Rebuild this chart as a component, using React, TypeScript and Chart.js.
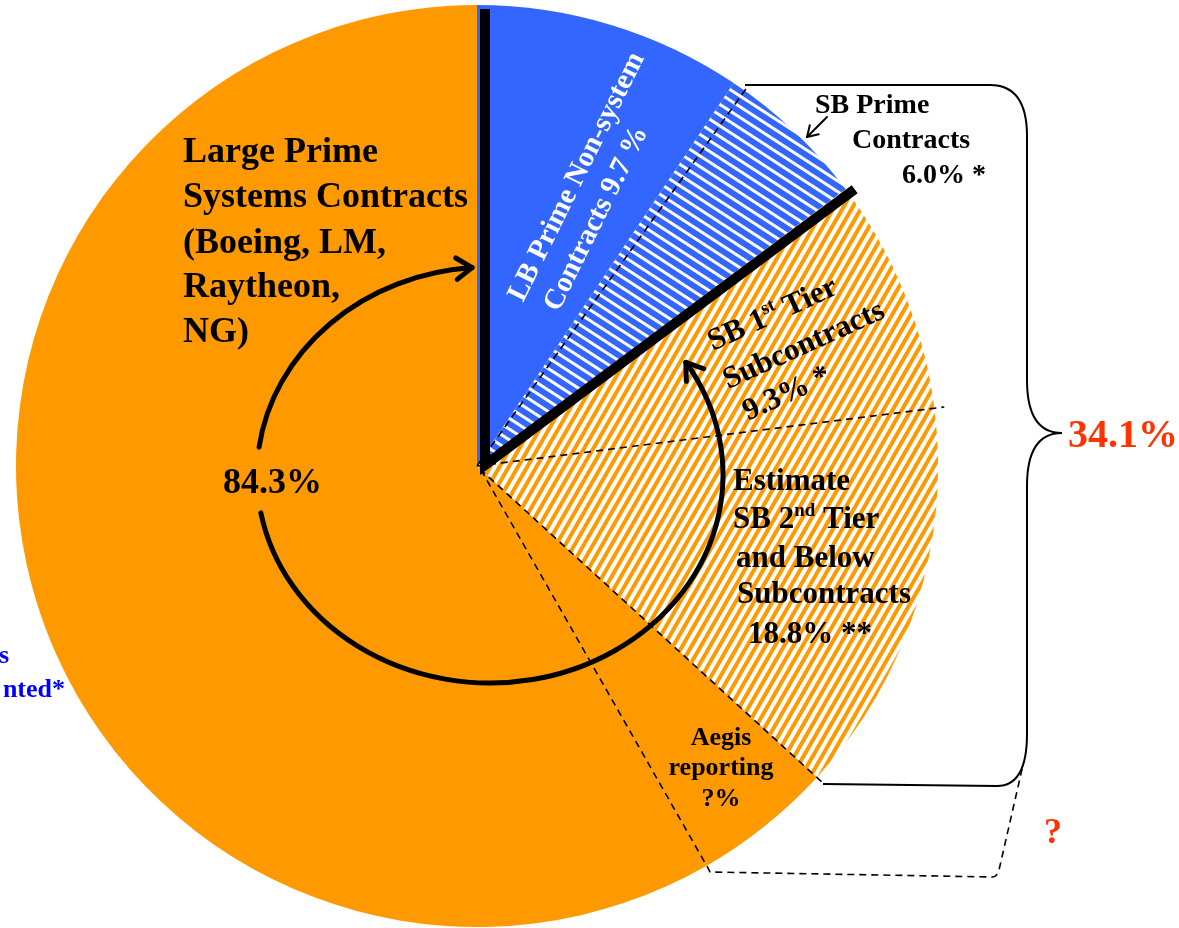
import React, { useEffect, useRef } from "react";
import { Chart, registerables } from "chart.js";

Chart.register(...registerables);

// ---- data ----
// slice names, clockwise from 12 o'clock
const sliceNames = [
  "LB Prime Non-system Contracts",
  "SB Prime Contracts",
  "SB 1st Tier Subcontracts",
  "Estimate SB 2nd Tier and Below Subcontracts",
  "Aegis reporting",
  "Large Prime Systems Contracts (Boeing, LM, Raytheon, NG)",
];
// share of the circle each slice occupies in the drawing (percent)
const sliceShares = [9.4, 5.35, 8.25, 13.8, 4.9, 58.3];
// percentages printed in the labels
const printedPercents = ["9.7 %", "6.0% *", "9.3% *", "18.8% **", "?%", "84.3%"];
const sbTotalLabel = "34.1%";
const unknownLabel = "?";
// extra dashed guide (degrees clockwise from top) that ties the SB Prime slice to the brace
const guideAngles = [35.5];

const SERIF = '"Liberation Serif", "Times New Roman", serif';
const ORANGE = "#FF9900";
const BLUE = "#3366FF";
const RED = "#FF3300";

function stripePattern(c1: string, w1: number, c2: string, w2: number, angleDeg: number) {
  const cv = document.createElement("canvas");
  cv.width = w1 + w2;
  cv.height = 4;
  const g = cv.getContext("2d")!;
  g.fillStyle = c1;
  g.fillRect(0, 0, w1, 4);
  g.fillStyle = c2;
  g.fillRect(w1, 0, w2, 4);
  const p = g.createPattern(cv, "repeat")!;
  p.setTransform(new DOMMatrix().rotate(angleDeg));
  return p;
}

type Part = { t: string; sup?: boolean };
function drawRich(ctx: CanvasRenderingContext2D, parts: Part[], x: number, y: number, size: number) {
  let cx = x;
  for (const p of parts) {
    if (p.sup) {
      ctx.font = `bold ${Math.round(size * 0.62)}px ${SERIF}`;
      ctx.fillText(p.t, cx, y - size * 0.38);
      cx += ctx.measureText(p.t).width;
    } else {
      ctx.font = `bold ${size}px ${SERIF}`;
      ctx.fillText(p.t, cx, y);
      cx += ctx.measureText(p.t).width;
    }
  }
}

function arrowHead(ctx: CanvasRenderingContext2D, x: number, y: number, dx: number, dy: number, len: number, half: number) {
  const a = Math.atan2(dy, dx);
  ctx.beginPath();
  ctx.moveTo(x - len * Math.cos(a - half), y - len * Math.sin(a - half));
  ctx.lineTo(x, y);
  ctx.lineTo(x - len * Math.cos(a + half), y - len * Math.sin(a + half));
  ctx.stroke();
}

const overlay = {
  id: "overlay",
  afterDatasetsDraw(chart: any) {
    const ctx: CanvasRenderingContext2D = chart.ctx;
    const arcs = chart.getDatasetMeta(0).data as any[];
    const cx = arcs[0].x;
    const cy = arcs[0].y;
    const R = arcs[0].outerRadius;
    const pt = (ang: number, r: number) => [cx + r * Math.cos(ang), cy + r * Math.sin(ang)];
    const fromDeg = (d: number) => (d - 90) * Math.PI / 180;

    ctx.save();
    ctx.lineCap = "butt";

    // ---- dashed guides ----
    ctx.strokeStyle = "#000";
    ctx.lineWidth = 1.6;
    ctx.setLineDash([7, 5]);
    const gA = pt(fromDeg(guideAngles[0]), R + 2);
    ctx.beginPath(); ctx.moveTo(cx, cy); ctx.lineTo(gA[0], gA[1]); ctx.stroke();
    const gB = pt(arcs[2].endAngle, R + 10);
    ctx.beginPath(); ctx.moveTo(cx, cy); ctx.lineTo(gB[0], gB[1]); ctx.stroke();
    const gC = pt(arcs[3].endAngle, R + 6);
    ctx.beginPath(); ctx.moveTo(cx + 3, cy + 3); ctx.lineTo(gC[0] + 3, gC[1] + 3); ctx.stroke();
    const gD = pt(arcs[4].endAngle, R + 2);
    ctx.beginPath();
    ctx.moveTo(cx + 4, cy + 4);
    ctx.lineTo(gD[0], gD[1]);
    ctx.lineTo(cx + 233, cy + 406);
    ctx.lineTo(cx + 515, cy + 411);
    ctx.quadraticCurveTo(cx + 520, cy + 411, cx + 522, cy + 404);
    ctx.lineTo(cx + 546, cy + 299);
    ctx.stroke();
    ctx.setLineDash([]);

    // ---- brace ----
    ctx.lineWidth = 2;
    ctx.beginPath();
    ctx.moveTo(cx + 268, cy - 381);
    ctx.lineTo(cx + 513, cy - 381);
    ctx.quadraticCurveTo(cx + 550, cy - 381, cx + 550, cy - 330);
    ctx.lineTo(cx + 550, cy - 86);
    ctx.quadraticCurveTo(cx + 550, cy - 33, cx + 585, cy - 33);
    ctx.quadraticCurveTo(cx + 550, cy - 33, cx + 550, cy + 20);
    ctx.lineTo(cx + 550, cy + 268);
    ctx.quadraticCurveTo(cx + 550, cy + 320, cx + 520, cy + 320);
    ctx.lineTo(cx + 346, cy + 318);
    ctx.stroke();

    // ---- thick black dividers ----
    const dEnd = pt(arcs[1].endAngle, R + 5);
    ctx.lineWidth = 10;
    ctx.lineJoin = "miter";
    ctx.beginPath();
    ctx.moveTo(cx + 8, cy - R + 4);
    ctx.lineTo(cx + 8, cy - 1);
    ctx.lineTo(dEnd[0] + 5, dEnd[1] + 3);
    ctx.stroke();

    // ---- circular arrows ----
    const ex = cx + 13, ey = cy + 9, rx = 233, ry = 208;
    const d2r = Math.PI / 180;
    ctx.lineWidth = 5;
    ctx.lineJoin = "round";
    ctx.lineCap = "round";
    ctx.beginPath();
    ctx.ellipse(ex, ey, rx, ry, 0, 187.7 * d2r, 265.6 * d2r, false);
    ctx.stroke();
    {
      const t = 265.6 * d2r;
      arrowHead(ctx, ex + rx * Math.cos(t), ey + ry * Math.sin(t), -rx * Math.sin(t), ry * Math.cos(t), 19, 0.6);
    }
    ctx.beginPath();
    ctx.ellipse(ex, ey, rx, ry, 0, 169.5 * d2r, -32.8 * d2r, true);
    ctx.stroke();
    {
      const t = -32.8 * d2r;
      arrowHead(ctx, ex + rx * Math.cos(t), ey + ry * Math.sin(t), rx * Math.sin(t), -ry * Math.cos(t), 19, 0.6);
    }

    // small arrow to SB Prime
    ctx.lineWidth = 2;
    ctx.beginPath();
    ctx.moveTo(cx + 350, cy - 349);
    ctx.lineTo(cx + 330, cy - 329);
    ctx.stroke();
    arrowHead(ctx, cx + 330, cy - 329, -20, 20, 12, 0.55);
    ctx.lineCap = "butt";

    // ---- text ----
    ctx.textBaseline = "alphabetic";
    ctx.textAlign = "left";
    ctx.fillStyle = "#000";

    ctx.font = `bold 36px ${SERIF}`;
    const bigLines = ["Large Prime", "Systems Contracts", "(Boeing, LM,", "Raytheon,", "NG)"];
    const bigBase = [162, 207, 253, 297, 342];
    bigLines.forEach((l, i) => ctx.fillText(l, 183, bigBase[i]));
    ctx.fillText(printedPercents[5], 223, 493);

    ctx.font = `bold 28px ${SERIF}`;
    ctx.fillText("SB Prime", 815, 113);
    ctx.fillText("Contracts", 852, 148);
    ctx.fillText(printedPercents[1], 902, 183);

    // LB Prime (rotated, white)
    ctx.save();
    ctx.translate(523, 303);
    ctx.rotate(-63.7 * d2r);
    ctx.fillStyle = "#FFFFFF";
    ctx.font = `bold 29px ${SERIF}`;
    ctx.fillText("LB Prime Non-system", 0, 0);
    ctx.fillText("Contracts " + printedPercents[0], 7, 36);
    ctx.restore();

    // SB 1st tier (rotated)
    ctx.save();
    ctx.translate(713, 351);
    ctx.rotate(-24.5 * d2r);
    ctx.fillStyle = "#000";
    drawRich(ctx, [{ t: "SB 1" }, { t: "st", sup: true }, { t: " Tier" }], 0, 0, 31);
    ctx.font = `bold 31px ${SERIF}`;
    ctx.fillText("Subcontracts", -2, 41);
    ctx.fillText(printedPercents[2], 3, 78);
    ctx.restore();

    // Estimate SB 2nd tier
    ctx.fillStyle = "#000";
    ctx.font = `bold 31px ${SERIF}`;
    ctx.fillText("Estimate", 733, 490);
    drawRich(ctx, [{ t: "SB 2" }, { t: "nd", sup: true }, { t: " Tier" }], 733, 528, 31);
    ctx.font = `bold 31px ${SERIF}`;
    ctx.fillText("and Below", 736, 567);
    ctx.fillText("Subcontracts", 737, 603);
    ctx.fillText(printedPercents[3], 748, 643);

    // Aegis
    ctx.textAlign = "center";
    ctx.font = `bold 26px ${SERIF}`;
    ctx.fillText("Aegis", 721, 745);
    ctx.fillText("reporting", 721, 775);
    ctx.fillText(printedPercents[4], 721, 806);

    // right side red
    ctx.textAlign = "left";
    ctx.fillStyle = RED;
    ctx.font = `bold 40px ${SERIF}`;
    ctx.fillText(sbTotalLabel, 1068, 447);
    ctx.font = `bold 36px ${SERIF}`;
    ctx.fillText(unknownLabel, 1044, 843);

    // cut-off blue text at left edge
    ctx.fillStyle = "#0000FF";
    ctx.textAlign = "right";
    ctx.font = `bold 26px ${SERIF}`;
    ctx.fillText("s", 9, 663);
    ctx.fillText("nted*", 65, 697);

    ctx.restore();
  },
};

export default function App() {
  const ref = useRef<HTMLCanvasElement | null>(null);
  useEffect(() => {
    if (!ref.current) return;
    const blueStripe = stripePattern(BLUE, 6, "#FFFFFF", 3, -57);
    const orangeStripe = stripePattern(ORANGE, 4, "#FFFFFF", 4, 30);
    const fills = [BLUE, blueStripe, orangeStripe, orangeStripe, ORANGE, ORANGE];
    const chart = new Chart(ref.current, {
      type: "pie",
      data: {
        labels: sliceNames,
        datasets: [
          {
            data: sliceShares,
            backgroundColor: fills as any,
            borderWidth: 0,
            hoverOffset: 0,
            radius: 461,
          } as any,
        ],
      },
      options: {
        responsive: false,
        animation: false,
        events: [],
        layout: { padding: { left: 0, right: 225, top: 5, bottom: 1 } },
        plugins: { legend: { display: false }, tooltip: { enabled: false } },
      },
      plugins: [overlay],
    });
    return () => chart.destroy();
  }, []);
  return (
    <div style={{ position: "fixed", left: 0, top: 0, width: 1179, height: 928, background: "#fff" }}>
      <canvas ref={ref} width={1179} height={928} style={{ display: "block", width: 1179, height: 928 }} />
    </div>
  );
}
